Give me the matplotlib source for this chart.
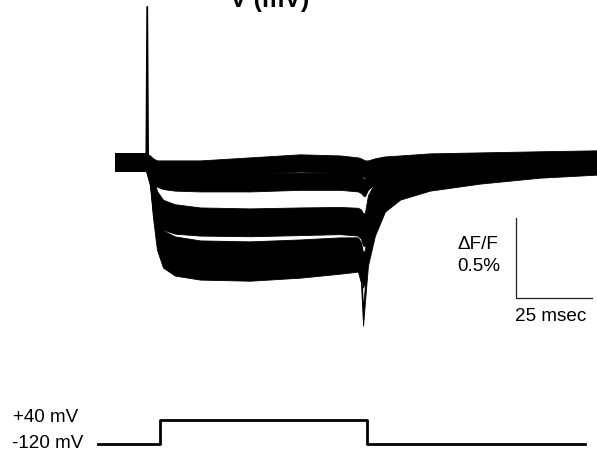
import matplotlib
matplotlib.use("Agg")
import matplotlib.pyplot as plt

plt.rcParams['font.family'] = ['Liberation Sans', 'DejaVu Sans']

# ---- data ----
# time (ms) of the fluorescence traces
t_ms = [0, 5, 10.2, 11.5, 12.5, 13.8, 15.8, 19.7, 28, 44.4, 60.9, 74, 79.9, 80.9,
        81.6, 82.2, 83.2, 85.5, 88.8, 93.8, 103.6, 120.1, 139.8, 158.6]

# dF/F (%) for each test pulse trace
trace1 = [0, 0, 0, -0.013, -0.031, -0.044, -0.044, -0.044, -0.044, -0.025, -0.006, -0.013,
          -0.025, -0.031, -0.038, -0.044, -0.044, -0.031, -0.019, -0.013, 0, 0.006, 0.013, 0.019]
trace2 = [0, 0, 0, -0.031, -0.070, -0.100, -0.115, -0.125, -0.130, -0.130, -0.120, -0.120,
          -0.130, -0.140, -0.155, -0.160, -0.120, -0.081, -0.056, -0.044, -0.025, -0.013, 0, 0.006]
trace3 = [0, 0, 0, -0.044, -0.138, -0.235, -0.290, -0.318, -0.338, -0.344, -0.338, -0.335,
          -0.340, -0.350, -0.375, -0.372, -0.263, -0.181, -0.119, -0.088, -0.056, -0.031, -0.013, 0]
trace4 = [0, 0, 0, -0.056, -0.181, -0.306, -0.369, -0.394, -0.406, -0.410, -0.403, -0.397,
          -0.406, -0.425, -0.469, -0.469, -0.325, -0.219, -0.144, -0.106, -0.075, -0.044, -0.019, -0.006]
trace5 = [0, 0, 0, -0.069, -0.231, -0.388, -0.481, -0.519, -0.544, -0.550, -0.538, -0.525,
          -0.525, -0.556, -0.619, -0.606, -0.419, -0.281, -0.181, -0.131, -0.094, -0.056, -0.031, -0.013]
trace6 = [0, 0, 0, -0.081, -0.263, -0.450, -0.556, -0.594, -0.619, -0.625, -0.606, -0.594,
          -0.588, -0.631, -0.731, -0.700, -0.513, -0.344, -0.219, -0.156, -0.106, -0.069, -0.038, -0.019]
trace7 = [0, 0, 0, -0.094, -0.294, -0.494, -0.606, -0.656, -0.681, -0.688, -0.669, -0.644,
          -0.631, -0.700, -0.969, -0.825, -0.594, -0.406, -0.256, -0.181, -0.125, -0.081, -0.044, -0.025]
traces = [trace1, trace2, trace3, trace4, trace5, trace6, trace7]
noise_halfwidth = 0.054  # % (peak noise amplitude)

# capacitive artifact at pulse onset
artifact_t = [10.3, 10.6, 10.9]
artifact_v = [0, 0.97, 0]

# voltage protocol
v_t = [-5.5, 14.8, 82.9, 154.6]
v_mV = [-120, 40, -120, -120]

# scale bars
bar_t0, bar_dt = 131.9, 25      # ms
bar_f0, bar_df = -0.85, 0.5     # %

# ---- figure ----
fig = plt.figure(figsize=(5.97, 4.52), dpi=100)
xlim = (-37.83, 158.55)

ax = fig.add_axes([0, 0, 1, 1])
ax.set_xlim(*xlim)
ax.set_ylim(-1.80625, 1.01875)
ax.axis('off')

for tr in traces:
    lo = [v - noise_halfwidth for v in tr]
    hi = [v + noise_halfwidth for v in tr]
    ax.fill_between(t_ms, lo, hi, color='black', linewidth=0.6, edgecolor='black')

ax.plot(artifact_t, artifact_v, color='black', linewidth=1.3)

# scale bars
ax.plot([bar_t0, bar_t0, bar_t0 + bar_dt],
        [bar_f0 + bar_df, bar_f0, bar_f0], color='#222222', linewidth=0.9)

# voltage axes
axv = fig.add_axes([0, 0, 1, 52 / 452])
axv.set_xlim(*xlim)
axv.set_ylim(-165.7, 173.9)
axv.axis('off')
axv.plot(v_t, v_mV, drawstyle='steps-post', color='black', linewidth=2.0)

fs = 13.6
fig.text(0.451, 0.9845, 'V (mV)', ha='center', va='baseline', fontsize=18, fontweight='bold')
fig.text(0.7655, 0.459, 'ΔF/F', ha='left', va='center', fontsize=fs)
fig.text(0.7655, 0.4115, '0.5%', ha='left', va='center', fontsize=fs)
fig.text(0.8626, 0.2987, '25 msec', ha='left', va='center', fontsize=fs)
fig.text(0.0218, 0.0774, '+40 mV', ha='left', va='center', fontsize=fs)
fig.text(0.0201, 0.0199, '-120 mV', ha='left', va='center', fontsize=fs)

fig.savefig('out.png', dpi=100)
